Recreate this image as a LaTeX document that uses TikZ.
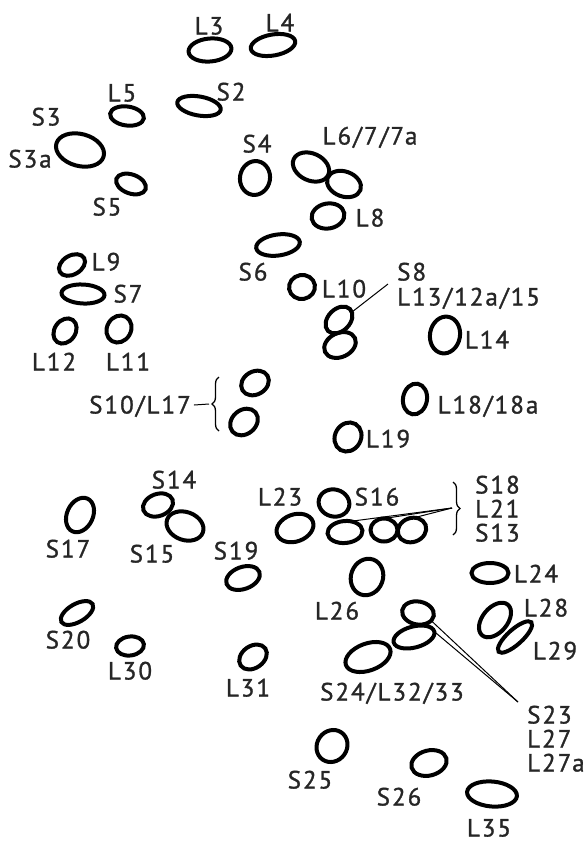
\documentclass[tikz,border=0pt]{standalone}
\usepackage{fontspec}
\setmainfont{PT Sans}[LetterSpace=8, FakeBold=1.2]
\usetikzlibrary{shapes.geometric,decorations.pathreplacing}
\tikzset{
  spot/.style={ellipse, draw, line width=4pt, inner sep=0pt, outer sep=0pt},
  lbl/.style={font=\fontsize{25}{27}\selectfont, inner sep=0pt, text height=17pt, text depth=0pt, text=black!85},
  leader/.style={line width=1pt},
  bracestyle/.style={line width=1.3pt, decorate, decoration={brace, amplitude=7pt}}
}
\newcommand{\spotat}[6]{\node[spot, minimum width=#4pt, minimum height=#5pt, rotate=#6] (#1) at (#2,#3) {};}
\begin{document}
\begin{tikzpicture}[x=1pt,y=-1pt]
\useasboundingbox (0,0) rectangle (588,844);
% spots
\spotat{l3}{210}{50}{43}{23}{5}
\spotat{l4}{273}{45}{45}{21}{10}
\spotat{l5}{127}{116}{34}{19}{-8}
\spotat{s2}{199}{106}{44}{19}{-10}
\spotat{s3a}{80}{150}{49}{32}{-15}
\spotat{s5}{131}{184}{31}{19}{-20}
\spotat{s4}{255}{178}{34}{30}{80}
\spotat{l6a}{311}{167}{38}{27}{-25}
\spotat{l6b}{344}{184}{35}{25}{-20}
\spotat{l8}{328}{216}{33}{25}{10}
\spotat{s6}{278}{245}{44}{21}{8}
\spotat{l9}{72}{265}{28}{19}{30}
\spotat{s7}{83}{294}{43}{19}{-3}
\spotat{l12}{65}{331}{27}{21}{55}
\spotat{l11}{119}{329}{28}{24}{60}
\spotat{l10}{302}{287}{26}{24}{10}
\spotat{s8a}{339}{320}{31}{22}{45}
\spotat{s8b}{340}{345}{33}{24}{25}
\spotat{l14}{445}{335}{30}{37}{-10}
\spotat{l18}{415}{399}{24}{31}{-10}
\spotat{l19}{348}{437}{30}{26}{60}
\spotat{s10a}{255}{383}{29}{23}{30}
\spotat{s10b}{244}{422}{30}{24}{40}
\spotat{s17}{80}{515}{36}{26}{65}
\spotat{s14}{158}{505}{31}{22}{20}
\spotat{s15}{185}{526}{38}{28}{-20}
\spotat{s19}{243}{578}{35}{22}{20}
\spotat{s20}{77}{613}{36}{18}{30}
\spotat{l30}{130}{646}{28}{19}{8}
\spotat{l31}{253}{657}{30}{22}{35}
\spotat{l23}{295}{528}{38}{27}{20}
\spotat{s16}{334}{503}{31}{27}{-15}
\spotat{r1}{345}{532}{35}{22}{5}
\spotat{r2}{384}{530}{27}{23}{0}
\spotat{r3}{412}{530}{29}{24}{20}
\spotat{l26}{367}{577}{37}{32}{70}
\spotat{l24}{490}{573}{37}{20}{0}
\spotat{l28}{495}{620}{40}{25}{50}
\spotat{l29}{515}{637}{44}{15}{42}
\spotat{s23a}{418}{613}{32}{23}{-10}
\spotat{s23b}{414}{637}{42}{21}{15}
\spotat{s24}{368}{657}{47}{27}{20}
\spotat{s25}{332}{746}{33}{30}{55}
\spotat{s26}{429}{763}{36}{25}{15}
\spotat{l35}{492}{794}{50}{25}{-5}
% labels
\node[lbl] (tl3) at (209,26) {L3};
\node[lbl] (tl4) at (280,23) {L4};
\node[lbl] (tl5) at (122,93) {L5};
\node[lbl] (ts2) at (231,92) {S2};
\node[lbl] (ts3) at (46,117) {S3};
\node[lbl] (ts3a) at (30,159) {S3a};
\node[lbl] (ts5) at (107,207) {S5};
\node[lbl] (ts4) at (257,144) {S4};
\node[lbl] (tl6) at (370,136) {L6/7/7a};
\node[lbl] (tl8) at (370,218) {L8};
\node[lbl] (ts6) at (253,272) {S6};
\node[lbl] (tl9) at (106,262) {L9};
\node[lbl] (ts7) at (128,294) {S7};
\node[lbl] (tl12) at (54,362) {L12};
\node[lbl] (tl11) at (128,362) {L11};
\node[lbl] (tl10) at (344,289) {L10};
\node[lbl, anchor=west] (ts8) at (397,272) {S8};
\node[lbl, anchor=west] (tl13) at (397,297) {L13/12a/15};
\node[lbl] (tl14) at (487,340) {L14};
\node[lbl] (tl18) at (488,405) {L18/18a};
\node[lbl] (tl19) at (388,439) {L19};
\node[lbl] (ts10) at (140,405) {S10/L17};
\node[lbl] (ts17) at (68,549) {S17};
\node[lbl] (ts14) at (174,480) {S14};
\node[lbl] (ts15) at (152,554) {S15};
\node[lbl] (ts19) at (236,551) {S19};
\node[lbl] (ts20) at (68,640) {S20};
\node[lbl] (tl30) at (130,671) {L30};
\node[lbl] (tl31) at (248,688) {L31};
\node[lbl] (tl23) at (280,497) {L23};
\node[lbl] (ts16) at (377,497) {S16};
\node[lbl, anchor=west] (ts18) at (475,485) {S18};
\node[lbl, anchor=west] (tl21) at (475,509) {L21};
\node[lbl, anchor=west] (ts13) at (475,533) {S13};
\node[lbl] (tl26) at (337,611) {L26};
\node[lbl] (tl24) at (536,574) {L24};
\node[lbl] (tl28) at (546,608) {L28};
\node[lbl] (tl29) at (555,651) {L29};
\node[lbl] (ts24) at (392,692) {S24/L32/33};
\node[lbl, anchor=west] (ts23) at (527,715) {S23};
\node[lbl, anchor=west] (tl27) at (527,739) {L27};
\node[lbl, anchor=west] (tl27a) at (527,763) {L27a};
\node[lbl] (ts25) at (310,780) {S25};
\node[lbl] (ts26) at (399,797) {S26};
\node[lbl] (tl35) at (489,828) {L35};
% braces and leaders
\draw[bracestyle] (219,431) -- (219,377);
\coordinate (btipl) at (209,404);
\draw[leader] (ts10.east) ++(3,0) -- (btipl);
\draw[bracestyle] (453,482) -- (453,535);
\coordinate (btipr) at (452,508);
\coordinate (r1top) at (353,521);
\coordinate (r2top) at (381,519);
\coordinate (r3top) at (413,518);
\draw[leader] (btipr) -- (r1top);
\draw[leader] (btipr) -- (r2top);
\draw[leader] (btipr) -- (r3top);
\coordinate (s8lead) at (388,284);
\coordinate (s8tip) at (352,312);
\draw[leader] (s8lead) -- (s8tip);
\coordinate (s23apex) at (518,702);
\draw[leader] (s23a.-20) -- (s23apex);
\draw[leader] (s23b.east) -- (s23apex);
\end{tikzpicture}
\end{document}
